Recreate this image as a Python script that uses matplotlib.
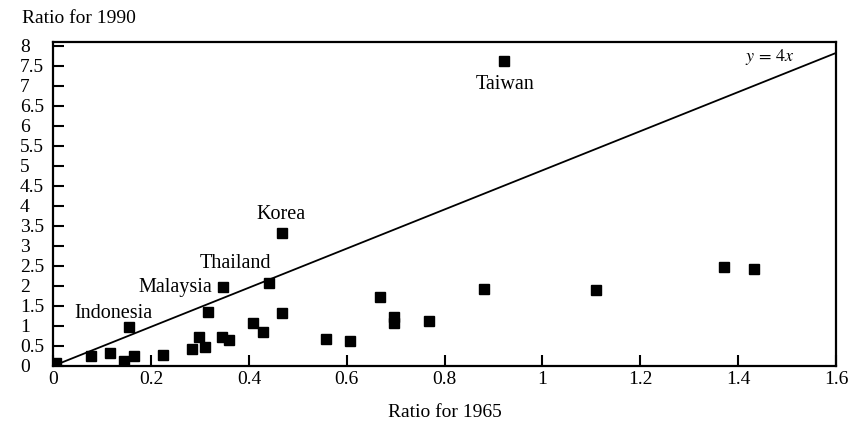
import numpy as np
import matplotlib.pyplot as plt

plt.rcParams['font.family'] = ['Liberation Serif', 'DejaVu Serif']

# Ratio for 1965 (x) and ratio for 1990 (y)
ratio_1965 = [0.005, 0.078, 0.115, 0.144, 0.165, 0.154, 0.224, 0.283, 0.297, 0.310,
              0.316, 0.346, 0.344, 0.359, 0.409, 0.428, 0.440, 0.467, 0.467, 0.557,
              0.607, 0.667, 0.697, 0.697, 0.769, 0.880, 1.110, 1.371, 1.433, 0.921]
ratio_1990 = [0.08, 0.25, 0.32, 0.12, 0.25, 0.96, 0.27, 0.42, 0.73, 0.46,
              1.34, 1.97, 0.73, 0.65, 1.08, 0.84, 2.08, 3.33, 1.32, 0.67,
              0.62, 1.73, 1.23, 1.07, 1.11, 1.92, 1.90, 2.47, 2.43, 7.61]

countries = ['Indonesia', 'Malaysia', 'Thailand', 'Korea', 'Taiwan']
label_x = [0.123, 0.325, 0.373, 0.465, 0.924]
label_y = [1.32, 1.97, 2.57, 3.78, 7.02]
label_ha = ['center', 'right', 'center', 'center', 'center']

# reference line as drawn in the figure
line_x = [0.0, 1.6]
line_y = [0.0, 7.82]

fig = plt.figure(figsize=(8.6, 4.22), dpi=100)
ax = fig.add_axes([0.062, 0.133, 0.910, 0.768])

ax.plot(line_x, line_y, color='black', lw=1.3)
ax.plot(ratio_1965, ratio_1990, 's', color='black', ms=7.5, clip_on=True)

for name, lx, ly, ha in zip(countries, label_x, label_y, label_ha):
    ax.text(lx, ly, name, ha=ha, va='center', fontsize=14.5)
ax.text(1.465, 7.72, r'$y\,=\,4x$', ha='center', va='center', fontsize=13,
        math_fontfamily='stix')

ax.set_xlim(0, 1.6)
ax.set_ylim(0, 8.1)
ax.set_xticks([0, 0.2, 0.4, 0.6, 0.8, 1.0, 1.2, 1.4, 1.6])
ax.set_xticklabels(['0', '0.2', '0.4', '0.6', '0.8', '1', '1.2', '1.4', '1.6'])
yt = np.arange(0, 8.5, 0.5)
ax.set_yticks(yt)
ax.set_yticklabels(['{:g}'.format(v) for v in yt])
ax.tick_params(direction='in', length=8, width=1.5, labelsize=14)
ax.tick_params(axis='y', pad=24)
for lab in ax.get_yticklabels():
    lab.set_horizontalalignment('left')
for sp in ax.spines.values():
    sp.set_linewidth(1.6)

ax.set_xlabel('Ratio for 1965', fontsize=14, labelpad=12)
fig.text(0.026, 0.955, 'Ratio for 1990', fontsize=14, ha='left', va='center')

fig.savefig('out.png', dpi=100)
